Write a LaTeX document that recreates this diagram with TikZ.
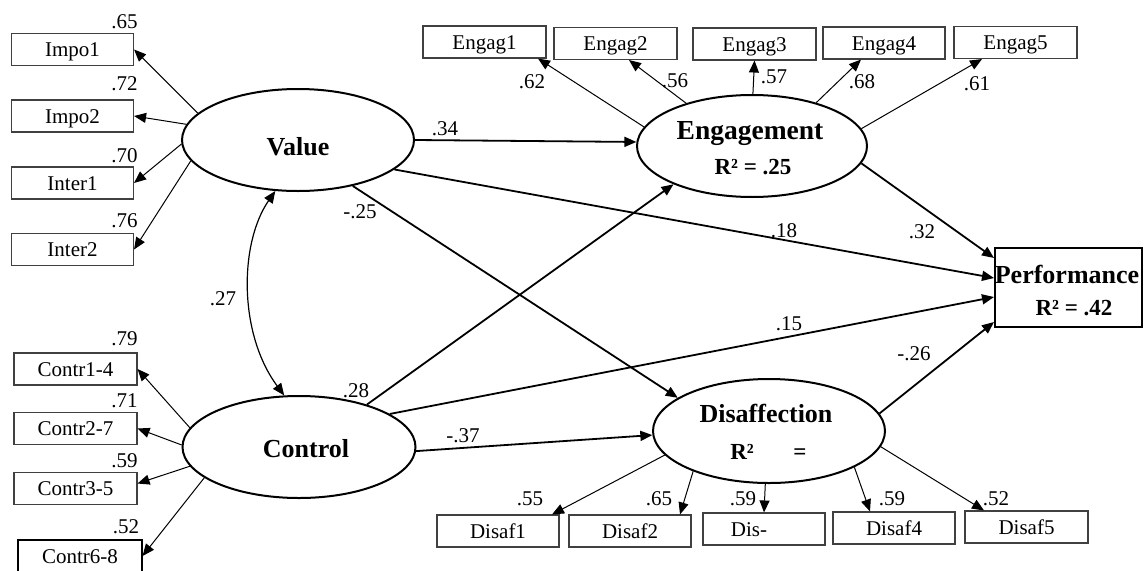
\documentclass[tikz,border=0pt]{standalone}
\usepackage{fontspec}
\setmainfont{Liberation Serif}
\usetikzlibrary{arrows.meta,calc,shapes.geometric}

\begin{document}
\begin{tikzpicture}[x=1pt,y=-1pt,
  latent/.style={ellipse,draw,line width=2pt,inner sep=0pt,minimum width=232pt,minimum height=102pt},
  indic/.style={rectangle,draw=black!75,line width=1.1pt,inner sep=0pt,
    minimum width=122pt,minimum height=32pt,text height=14pt,text depth=0pt,
    font=\fontsize{21}{25}\selectfont},
  outcome/.style={rectangle,draw,line width=2pt,inner sep=0pt,minimum width=147pt,minimum height=79pt},
  lvname/.style={anchor=base,inner sep=0pt,font=\bfseries\fontsize{26}{30}\selectfont},
  rsq/.style={anchor=base,inner sep=0pt,font=\bfseries\fontsize{23}{27}\selectfont},
  coef/.style={anchor=base,inner sep=0pt,font=\fontsize{21}{25}\selectfont},
  loading/.style={line width=1pt,-{Triangle[length=12pt,width=10pt]}},
  struct/.style={line width=1.8pt,-{Triangle[length=12pt,width=10pt]}},
]
\useasboundingbox (0,0) rectangle (1145,570);
\clip (0,0) rectangle (1145,570);

% latent variables
\node[latent] (v) at (298,140) {};
\node[latent,minimum width=233pt] (c) at (299,447) {};
\node[latent,minimum width=230pt] (e) at (752,146) {};
\node[latent,minimum height=104pt] (d) at (769,431) {};
\node[outcome] (p) at (1068.5,287.5) {};

\node[lvname] (vt) at (298,155) {Value};
\node[lvname] (ct) at (306,457) {Control};
\node[lvname,font=\bfseries\fontsize{27.5}{32}\selectfont] (et) at (750,139) {Engagement};
\node[rsq] (er) at (753,174) {R² = .25};
\node[lvname] (dt) at (766,422) {Disaffection};
\node[rsq] (dr1) at (742,459) {R²};
\node[rsq] (dr2) at (800,459) {=};
\node[lvname] (pt) at (1067,283) {Performance};
\node[rsq] (pr) at (1074,315) {R² = .42};

% value indicators
\node[indic] (i1) at (72.5,49.5) {Impo1};
\node[indic] (i2) at (72.5,116) {Impo2};
\node[indic] (i3) at (72.5,183) {Inter1};
\node[indic] (i4) at (72.5,249.5) {Inter2};

% control indicators
\node[indic,minimum width=123pt] (c1) at (75.5,369) {Contr1-4};
\node[indic,minimum width=123pt] (c2) at (75.5,428.5) {Contr2-7};
\node[indic,minimum width=123pt] (c3) at (75.5,488.5) {Contr3-5};
\node[indic,minimum width=124pt,draw=black] (c4) at (80,556) {Contr6-8};

% engagement indicators
\node[indic,minimum width=123pt] (g1) at (484.5,42) {Engag1};
\node[indic,minimum width=123pt] (g2) at (615.5,43.5) {Engag2};
\node[indic,minimum width=123pt] (g3) at (754.5,44) {Engag3};
\node[indic] (g4) at (884,43) {Engag4};
\node[indic,minimum width=123pt] (g5) at (1015.5,42.5) {Engag5};

% disaffection indicators
\node[indic] (d1) at (498,531) {Disaf1};
\node[indic] (d2) at (630,531) {Disaf2};
\node[indic] (d3) at (764,529) {};
\node[anchor=base,inner sep=0pt,font=\fontsize{21}{25}\selectfont] (d3t) at (749,536) {Dis-};
\node[indic] (d4) at (894,528) {Disaf4};
\node[indic,minimum width=123pt] (d5) at (1026.5,527) {Disaf5};

% loadings
\draw[loading] (v.165) -- (i1.east);
\draw[loading] (v.172) -- (i2.east);
\draw[loading] (v.182) -- (i3.east);
\draw[loading] (v.191) -- (i4.east);

\draw[loading] (c.170) -- (c1.east);
\draw[loading] (c.179) -- (c2.east);
\draw[loading] (c.190) -- ($(c3.east)+(0,-5)$);
\draw[loading] (c.198) -- (c4.east);

\draw[loading] (e.170) -- ($(g1.south)+(53.5,0)$);
\draw[loading] (e.147) -- ($(g2.south)+(13.5,0)$);
\draw[loading] (e.89) -- (g3.south);
\draw[loading] (e.34) -- ($(g4.south)+(-23,0)$);
\draw[loading] (e.9) -- ($(g5.south)+(-33.5,0)$);

\draw[loading] (d.193) -- ($(d1.north)+(54,0)$);
\draw[loading] (d.208) -- ($(d2.north)+(50,0)$);
\draw[loading] (d.266) -- (d3.north);
\draw[loading] (d.337) -- ($(d4.north)+(-24,0)$);
\draw[loading] (d.352) -- ($(d5.north)+(-42.5,0)$);

% structural paths
\draw[struct] (v.0) -- (e.178);
\draw[struct] (v.343) -- ($(p.west)+(0,-9.5)$);
\draw[struct] (v.320) -- (d.160);
\draw[struct] (c.32) -- (e.206);
\draw[struct] (c.20) -- ($(p.west)+(0,9.5)$);
\draw[struct] (c.358) -- (d.182);
\draw[struct] (e.351) -- ($(p.west)+(0,-29.5)$);
\draw[struct] (d.9) -- ($(p.west)+(0,34.5)$);

% correlation between the predictors
\draw[line width=1.2pt,{Triangle[length=12pt,width=10pt]}-{Triangle[length=12pt,width=10pt]}]
  (c.106) .. controls +(-46,-62) and +(-36,52) .. (v.246);

% coefficients
\node[coef] (l1) at (124.5,28) {.65};
\node[coef] (l2) at (124.5,90) {.72};
\node[coef] (l3) at (124.5,162) {.70};
\node[coef] (l4) at (124.5,227) {.76};
\node[coef] (l5) at (124.5,345) {.79};
\node[coef] (l6) at (124.5,407) {.71};
\node[coef] (l7) at (124.5,467) {.59};
\node[coef] (l8) at (126,533) {.52};

\node[coef] (l9) at (532,88) {.62};
\node[coef] (l10) at (675,87) {.56};
\node[coef] (l11) at (774,83) {.57};
\node[coef] (l12) at (862,88) {.68};
\node[coef] (l13) at (977,90) {.61};

\node[coef] (l14) at (530,505) {.55};
\node[coef] (l15) at (659,505) {.65};
\node[coef] (l16) at (743,505) {.59};
\node[coef] (l17) at (892,505) {.59};
\node[coef] (l18) at (996,505) {.52};

\node[coef] (s1) at (223,305) {.27};
\node[coef] (s2) at (360,218) {-.25};
\node[coef] (s3) at (356,397) {.28};
\node[coef] (s4) at (445,135) {.34};
\node[coef] (s5) at (784,237) {.18};
\node[coef] (s6) at (789,330) {.15};
\node[coef] (s7) at (922,238) {.32};
\node[coef] (s8) at (914,360) {-.26};
\node[coef] (s9) at (463,442) {-.37};
\end{tikzpicture}
\end{document}
